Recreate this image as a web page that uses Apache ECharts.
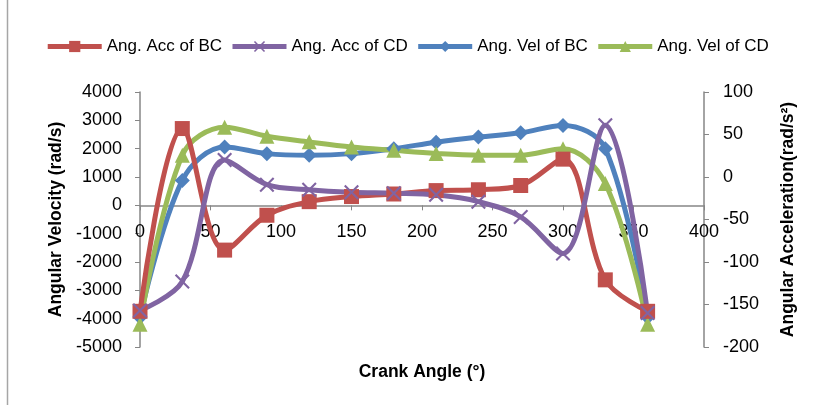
<!DOCTYPE html>
<html>
<head>
<meta charset="utf-8">
<script src="https://cdn.jsdelivr.net/npm/echarts@6/dist/echarts.min.js"></script>
<style>
  html, body { margin: 0; padding: 0; background: #fff; }
  #chart { width: 814px; height: 405px; }
</style>
</head>
<body>
<div id="chart"></div>
<script>
// crank angle (deg)
const angles = [0, 30, 60, 90, 120, 150, 180, 210, 240, 270, 300, 330, 360];
// angular acceleration (rad/s^2) - right axis
const accBC = [-158, 57, -86, -45, -29, -23, -20, -16, -15, -10, 21, -121, -158];
const accCD = [-157, -123, 20, -9, -15, -18, -19, -21, -29, -47, -90, 61, -160];
// angular velocity (rad/s) - left axis
const velBC = [-3950, 880, 2060, 1825, 1770, 1825, 2000, 2230, 2410, 2560, 2820, 2000, -3950];
const velCD = [-4200, 1770, 2760, 2440, 2240, 2060, 1940, 1830, 1770, 1770, 2000, 770, -4200];

const FONT = "'Liberation Sans', Arial, sans-serif";
const AXIS_COLOR = "#868686";
const X_SYMBOL = "path://M0,1L1,0L5,4L9,0L10,1L6,5L10,9L9,10L5,6L1,10L0,9L4,5Z";

const pairs = (ys) => angles.map((a, i) => [a, ys[i]]);
const plain = (v) => String(v);

// plot box (px)
const G_TOP = 92, G_BOTTOM = 58, G_H = 405 - G_TOP - G_BOTTOM;
// the crank angle axis sits on velocity = 0 (4000 of 9000 down from the top)
const X_OFFSET = -(G_H * 5 / 9);

const chart = echarts.init(document.getElementById("chart"));

const mkSeries = (name, data, color, symbol, axis, z) => ({
  name: name,
  type: "line",
  yAxisIndex: axis,
  data: pairs(data),
  smooth: 0.35,
  symbol: symbol,
  symbolSize: 15,
  z: z,
  lineStyle: { width: 5, color: color },
  itemStyle: { color: color },
});

const nameStyle = { fontFamily: FONT, fontSize: 17.5, fontWeight: "bold", color: "#000" };
const labelStyle = { fontFamily: FONT, fontSize: 18, color: "#000", formatter: plain };

chart.setOption({
  animation: false,
  textStyle: { fontFamily: FONT },
  legend: {
    top: 33,
    left: "center",
    itemWidth: 54,
    itemHeight: 14,
    itemGap: 8,
    lineStyle: { width: 5 },
    textStyle: { fontFamily: FONT, fontSize: 17, color: "#000" },
    data: ["Ang. Acc of BC", "Ang. Acc of CD", "Ang. Vel of BC", "Ang. Vel of CD"],
  },
  grid: { left: 140, right: 110, top: G_TOP, bottom: G_BOTTOM, containLabel: false, outerBoundsMode: "none" },
  xAxis: {
    type: "value",
    position: "bottom",
    offset: X_OFFSET,
    min: 0,
    max: 400,
    interval: 50,
    name: "Crank Angle (°)",
    nameLocation: "middle",
    nameGap: 158,
    nameMoveOverlap: false,
    nameTextStyle: nameStyle,
    axisLine: { onZero: false, lineStyle: { color: AXIS_COLOR, width: 1.5 } },
    axisTick: { show: true, length: 5, lineStyle: { color: AXIS_COLOR } },
    axisLabel: Object.assign({ margin: 18 }, labelStyle),
    splitLine: { show: false },
  },
  yAxis: [
    {
      type: "value",
      min: -5000,
      max: 4000,
      interval: 1000,
      name: "Angular Velocity (rad/s)",
      nameLocation: "middle",
      nameRotate: 90,
      nameGap: 73,
      nameTextStyle: nameStyle,
      axisLine: { show: true, lineStyle: { color: AXIS_COLOR, width: 1.5 } },
      axisTick: { show: true, length: 5, lineStyle: { color: AXIS_COLOR } },
      axisLabel: Object.assign({ margin: 18 }, labelStyle),
      splitLine: { show: false },
    },
    {
      type: "value",
      position: "right",
      min: -200,
      max: 100,
      interval: 50,
      name: "Angular Acceleration(rad/s²)",
      nameLocation: "middle",
      nameRotate: 90,
      nameGap: 75,
      nameTextStyle: nameStyle,
      axisLine: { show: true, lineStyle: { color: AXIS_COLOR, width: 1.5 } },
      axisTick: { show: true, length: 5, lineStyle: { color: AXIS_COLOR } },
      axisLabel: Object.assign({ margin: 19 }, labelStyle),
      splitLine: { show: false },
    },
  ],
  graphic: [
    {
      type: "line",
      shape: { x1: 7.5, y1: 0, x2: 7.5, y2: 405 },
      style: { stroke: "#a6a6a6", lineWidth: 1.5 },
    },
  ],
  series: [
    mkSeries("Ang. Acc of BC", accBC, "#C0504D", "rect", 1, 4),
    mkSeries("Ang. Acc of CD", accCD, "#8064A2", X_SYMBOL, 1, 4),
    mkSeries("Ang. Vel of BC", velBC, "#4F81BD", "diamond", 0, 3),
    mkSeries("Ang. Vel of CD", velCD, "#9BBB59", "triangle", 0, 3),
  ],
});
</script>
</body>
</html>
